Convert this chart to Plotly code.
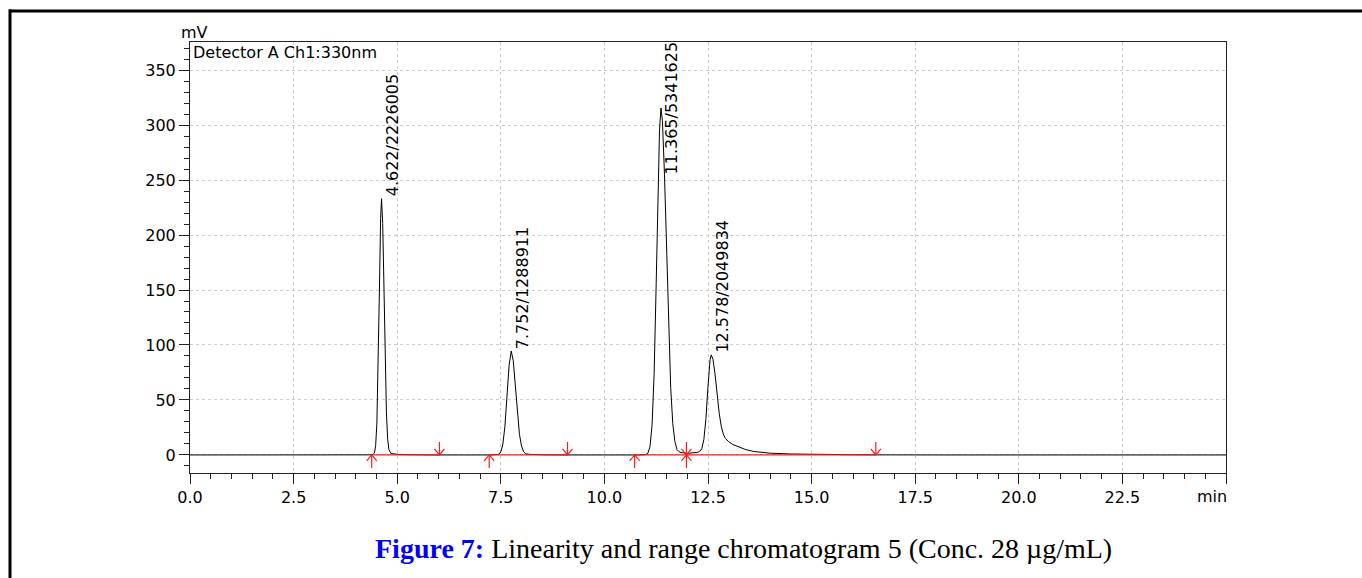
import plotly.graph_objects as go

# ---------------- data ----------------
time_min = [0.0, 4.30, 4.40, 4.45, 4.48, 4.51, 4.54, 4.57, 4.60, 4.622, 4.65, 4.68, 4.71, 4.74,
            4.77, 4.80, 4.85, 4.90, 5.00, 5.20, 5.50, 6.00,
            7.30, 7.40, 7.45, 7.50, 7.55, 7.60, 7.65, 7.70, 7.752, 7.80, 7.85, 7.90, 7.95, 8.00,
            8.05, 8.10, 8.20, 8.50, 9.00,
            10.80, 10.90, 11.00, 11.05, 11.10, 11.15, 11.20, 11.25, 11.30, 11.33, 11.365, 11.40,
            11.45, 11.50, 11.55, 11.60, 11.65, 11.70, 11.75, 11.80, 11.85, 11.90, 11.98, 12.05,
            12.12, 12.20, 12.25, 12.30, 12.35, 12.40, 12.45, 12.50, 12.55, 12.578, 12.62, 12.67,
            12.72, 12.77, 12.82, 12.87, 12.92, 13.00, 13.10, 13.27, 13.40, 13.60, 13.80, 14.00,
            14.50, 15.00, 15.50, 16.00, 16.50, 17.00, 18.00, 25.0]
signal_mv = [0.0, 0.0, 0.1, 1.7, 8.4, 29, 76.7, 148, 215, 233, 210.5, 150.6, 85, 38.3,
             14.3, 4.8, 1.3, 1.0, 0.6, 0.3, 0.1, 0.0,
             0.0, 0.1, 0.6, 2.8, 9.8, 26.3, 53.2, 81.4, 94.5, 85.9, 63.5, 38.3, 18.7, 8.1,
             2.9, 1.1, 0.5, 0.2, 0.0,
             0.0, 0.1, 0.3, 1.6, 7.6, 26.9, 74, 156, 252, 295.6, 315.5, 304,
             254.7, 183.6, 115, 61.3, 28.5, 12.4, 5.0, 3.0, 2.2, 1.8, 1.6, 1.6,
             1.7, 2.0, 2.4, 3.2, 5.6, 14.0, 33.1, 62.5, 86.7, 91, 87, 73.5,
             55, 38, 26, 19, 15, 12, 9.5, 6.7, 5.0, 3.2, 2.2, 1.6,
             0.9, 0.5, 0.3, 0.2, 0.1, 0.05, 0.0, 0.0]

peak_rt = [4.622, 7.752, 11.365, 12.578]
peak_height = [233, 94.5, 315.5, 91]
peak_area = [2226005, 1288911, 5341625, 2049834]

peak_start = [4.385, 7.22, 10.73, 11.98]
peak_end = [6.02, 9.11, 11.98, 16.55]

x_tickvals = [0.0, 2.5, 5.0, 7.5, 10.0, 12.5, 15.0, 17.5, 20.0, 22.5, 25.0]
x_ticktext = ["0.0", "2.5", "5.0", "7.5", "10.0", "12.5", "15.0", "17.5", "20.0", "22.5", ""]
y_tickvals = [0, 50, 100, 150, 200, 250, 300, 350]
y_ticktext = ["0", "50", "100", "150", "200", "250", "300", "350"]

x_unit = "min"
y_unit = "mV"
detector_text = "Detector A Ch1:330nm"
caption_bold = "Figure 7:"
caption_rest = " Linearity and range chromatogram 5 (Conc. 28 µg/mL)"

# ---------------- layout constants ----------------
W, H = 1362, 578
ML, MR, MT, MB = 190, 136, 42, 105
X_RANGE = [0, 25]
Y_RANGE = [-16.4, 375.5]
plot_w = W - ML - MR
plot_h = H - MT - MB
px_per_min = plot_w / (X_RANGE[1] - X_RANGE[0])
px_per_mv = plot_h / (Y_RANGE[1] - Y_RANGE[0])

FONT = "DejaVu Sans"
AXC = "#222222"
RED = "#ff1a1a"

fig = go.Figure()

# chromatogram trace
fig.add_trace(go.Scatter(x=time_min, y=signal_mv, mode="lines",
                         line=dict(color="black", width=1), hoverinfo="skip",
                         showlegend=False))

# integration baselines (red)
bx, by = [], []
for s, e in zip(peak_start, peak_end):
    bx += [s, e, None]
    by += [0, 0, None]
fig.add_trace(go.Scatter(x=bx, y=by, mode="lines", line=dict(color=RED, width=1.2),
                         hoverinfo="skip", showlegend=False))

# start (up) and end (down) arrows
stem = 13 / px_per_mv
hh = 6 / px_per_mv
hw = 5 / px_per_min
ax_, ay_ = [], []
for s in peak_start:
    ax_ += [s, s, None, s - hw, s, s + hw, None]
    ay_ += [-stem, 0, None, -hh, 0, -hh, None]
for e in peak_end:
    ax_ += [e, e, None, e - hw, e, e + hw, None]
    ay_ += [stem, 0, None, hh, 0, hh, None]
fig.add_trace(go.Scatter(x=ax_, y=ay_, mode="lines", line=dict(color=RED, width=1.2),
                         hoverinfo="skip", showlegend=False, cliponaxis=False))

annotations = []
# peak labels
char_px = 9.4
for rt, h, area in zip(peak_rt, peak_height, peak_area):
    txt = f"{rt:.3f}/{area}"
    length_mv = len(txt) * char_px / px_per_mv
    if h + length_mv + 3 / px_per_mv > Y_RANGE[1]:
        annotations.append(dict(x=rt, y=Y_RANGE[1], xref="x", yref="y", text=txt,
                                textangle=-90, showarrow=False, xanchor="center",
                                yanchor="top", xshift=11, yshift=3,
                                font=dict(family=FONT, size=16, color="black")))
    else:
        annotations.append(dict(x=rt, y=h, xref="x", yref="y", text=txt,
                                textangle=-90, showarrow=False, xanchor="center",
                                yanchor="bottom", xshift=11, yshift=0,
                                font=dict(family=FONT, size=16, color="black")))

annotations.append(dict(x=0, y=1, xref="paper", yref="paper", text=y_unit, showarrow=False,
                        xanchor="center", yanchor="middle", xshift=4, yshift=10,
                        font=dict(family=FONT, size=16, color="black")))
annotations.append(dict(x=0, y=1, xref="paper", yref="paper", text=detector_text,
                        showarrow=False, xanchor="left", yanchor="top", xshift=1, yshift=1,
                        font=dict(family=FONT, size=16, color="black")))
annotations.append(dict(x=1, y=0, xref="paper", yref="paper", text=x_unit, showarrow=False,
                        xanchor="right", yanchor="middle", xshift=3, yshift=-23,
                        font=dict(family=FONT, size=16, color="black")))
annotations.append(dict(x=(743 - ML) / plot_w, y=(MB - (548 - (H - MB)) - MB) / plot_h,
                        xref="paper", yref="paper",
                        text=f"<b><span style='color:#0000ff'>{caption_bold}</span></b>{caption_rest}",
                        showarrow=False, xanchor="center", yanchor="middle",
                        font=dict(family="Liberation Serif", size=28, color="black")))

# outer frame (top and left border)
left_px, top_px = 10, 11
shapes = [
    dict(type="line", xref="paper", yref="paper",
         x0=(left_px - ML) / plot_w, x1=(W + 20 - ML) / plot_w,
         y0=(H - MB - top_px) / plot_h, y1=(H - MB - top_px) / plot_h,
         line=dict(color="black", width=3)),
    dict(type="line", xref="paper", yref="paper",
         x0=(left_px - ML) / plot_w, x1=(left_px - ML) / plot_w,
         y0=(H - MB - top_px) / plot_h + 0.004, y1=-(MB + 20) / plot_h,
         line=dict(color="black", width=3)),
]

fig.update_layout(
    width=W, height=H, autosize=False,
    margin=dict(l=ML, r=MR, t=MT, b=MB, autoexpand=False),
    paper_bgcolor="white", plot_bgcolor="white",
    font=dict(family=FONT, size=16, color="black"),
    showlegend=False,
    annotations=annotations,
    shapes=shapes,
    xaxis=dict(range=X_RANGE, tickmode="array", tickvals=x_tickvals, ticktext=x_ticktext,
               ticks="outside", ticklen=10, tickwidth=1, tickcolor=AXC,
               showline=True, linecolor=AXC, linewidth=1, mirror=True,
               showgrid=True, gridcolor="#cccccc", griddash="dot", gridwidth=1,
               zeroline=False, tickfont=dict(family=FONT, size=16, color="black"),
               minor=dict(tickmode="linear", tick0=0, dtick=0.5, ticks="outside",
                          ticklen=5, tickcolor=AXC, showgrid=False)),
    yaxis=dict(range=Y_RANGE, tickmode="array", tickvals=y_tickvals, ticktext=y_ticktext,
               ticks="outside", ticklen=10, tickwidth=1, tickcolor=AXC,
               showline=True, linecolor=AXC, linewidth=1, mirror=True,
               showgrid=True, gridcolor="#cccccc", griddash="dot", gridwidth=1,
               zeroline=False, tickfont=dict(family=FONT, size=16, color="black"),
               minor=dict(tickmode="linear", tick0=0, dtick=10, ticks="outside",
                          ticklen=5, tickcolor=AXC, showgrid=False)),
)

fig.write_html("out.html")
